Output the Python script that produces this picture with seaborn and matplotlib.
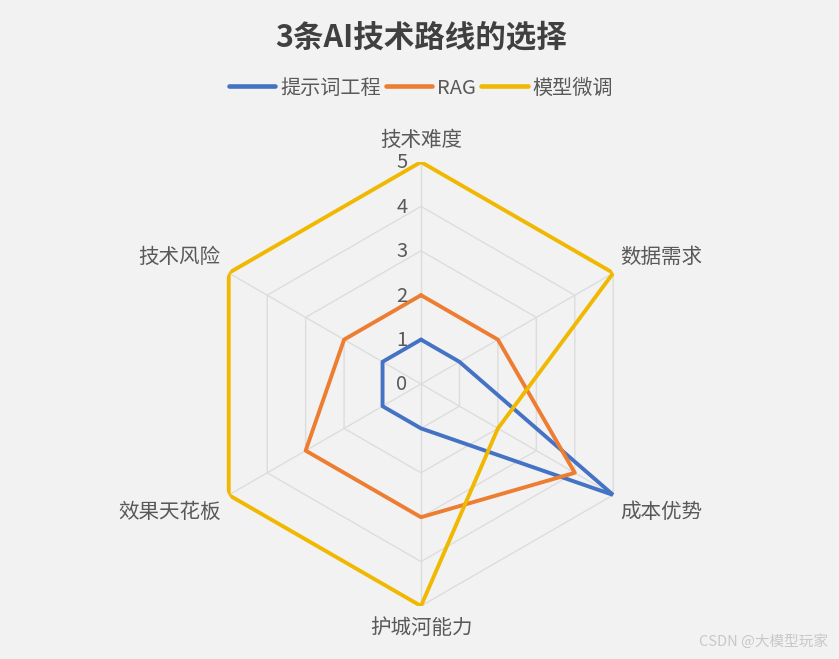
import numpy as np
import pandas as pd
import matplotlib
matplotlib.use("Agg")
import matplotlib.pyplot as plt
import seaborn as sns

# --- data ---
CATEGORIES = ["技术难度", "数据需求", "成本优势", "护城河能力", "效果天花板", "技术风险"]
PROMPT_ENG = [1, 1, 5, 1, 1, 1]
RAG = [2, 2, 4, 3, 3, 2]
FINE_TUNE = [5, 5, 2, 5, 5, 5]
SERIES_NAMES = ["提示词工程", "RAG", "模型微调"]
RADIAL_TICKS = [0, 1, 2, 3, 4, 5]
TITLE = "3条AI技术路线的选择"

COLORS = ["#4472C4", "#ED7D31", "#F0B800"]
BG = "#F2F2F2"
TEXT = "#595959"
GRID = "#DDDDDD"

sns.set_theme(style="white")
plt.rcParams['font.family'] = ['Noto Sans CJK SC', 'DejaVu Sans']

n = len(CATEGORIES)
angles = np.arange(n) * 2 * np.pi / n

# long-form table, first point repeated to close each polygon
rows = []
for name, vals in zip(SERIES_NAMES, [PROMPT_ENG, RAG, FINE_TUNE]):
    for i in range(n + 1):
        rows.append({"series": name, "angle": i * 2 * np.pi / n, "value": vals[i % n]})
df = pd.DataFrame(rows)

W, H = 839, 659
fig = plt.figure(figsize=(W / 100, H / 100), dpi=100)
fig.patch.set_facecolor(BG)

cx, cy, R = 421, 384, 222
ax = fig.add_axes([(cx - R) / W, (H - cy - R) / H, 2 * R / W, 2 * R / H], projection="polar")
ax.set_facecolor("none")
ax.set_theta_zero_location("N")
ax.set_theta_direction(-1)
ax.set_ylim(0, 5)
ax.grid(False)
ax.spines["polar"].set_visible(False)
ax.set_xticks([])
ax.set_yticks([])

# hexagon grid + spokes
closed = np.append(angles, angles[0])
for r in RADIAL_TICKS[1:]:
    ax.plot(closed, [r] * (n + 1), color=GRID, lw=1.0, zorder=1)
for a in angles:
    ax.plot([a, a], [0, 5], color=GRID, lw=1.0, zorder=1)

sns.lineplot(data=df, x="angle", y="value", hue="series", hue_order=SERIES_NAMES,
             palette=COLORS, sort=False, estimator=None, linewidth=2.8,
             ax=ax, zorder=3, legend=False)
ax.set_xlabel("")
ax.set_ylabel("")

# radial tick labels along top spoke
for v in RADIAL_TICKS:
    ax.annotate(str(v), xy=(0, v), xytext=(-19, -1), textcoords="offset pixels",
                ha="center", va="center", fontsize=14.5, color=TEXT, zorder=4)

# category labels, placed relative to the outer vertex
for a, lab in zip(angles, CATEGORIES):
    s, c = np.sin(a), np.cos(a)
    if abs(s) < 0.1:
        ha, dx, dy = "center", 0, 22 * np.sign(c)
    else:
        ha = "left" if s > 0 else "right"
        dx = 7 if s > 0 else -8
        dy = 16 if c > 0 else -17
    ax.annotate(lab, xy=(a, 5), xytext=(dx, dy), textcoords="offset pixels",
                ha=ha, va="center", fontsize=14.8, color=TEXT, zorder=4)

fig.text(cx / W, 1 - 37 / H, TITLE, ha="center", va="center", fontsize=22,
         fontweight="bold", color="#404040")

handles = [plt.Line2D([], [], color=c, lw=3.3) for c in COLORS]
fig.legend(handles, SERIES_NAMES, loc="center", bbox_to_anchor=(cx / W, 1 - 88 / H),
           ncol=3, frameon=False, fontsize=14.5, handlelength=2.3, handletextpad=0.25,
           columnspacing=0.25, labelcolor=TEXT)

fig.text(828 / W, 1 - 641 / H, "CSDN @大模型玩家", ha="right", va="center",
         fontsize=10.5, color="#C8C8C8")

fig.savefig("out.png", dpi=100, facecolor=BG)
